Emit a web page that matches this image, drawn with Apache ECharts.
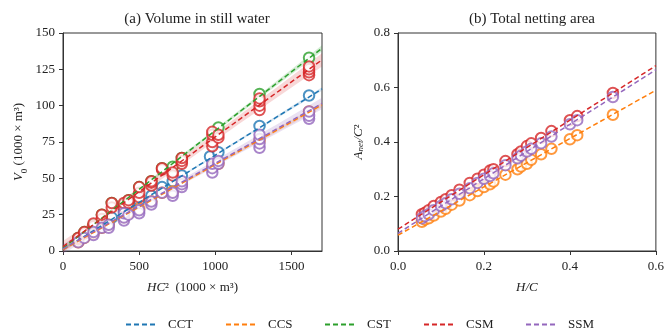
<!DOCTYPE html>
<html><head><meta charset="utf-8">
<script src="https://cdn.jsdelivr.net/npm/echarts@6/dist/echarts.min.js"></script>
<style>html,body{margin:0;padding:0;background:#fff}#c{width:667px;height:334px}</style>
</head><body><div id="c"></div>
<script>
const names = ['CCT','CCS','CST','CSM','SSM'];
const colors = ['#1f77b4','#ff7f0e','#2ca02c','#d62728','#9467bd'];
const bandColors = ['rgba(31,119,180,0.18)','rgba(255,127,14,0.18)','rgba(44,160,44,0.2)','rgba(214,39,40,0.18)','rgba(148,103,189,0.2)'];

// (a) Volume in still water: HC^2 vs V0
const CCT_x = [100,140,200,260,320,400,430,500,580,650,720,780,965,1020,1290,1615];
const CCT_y = [7,10,14,18,23,27,29,35,38,44,48,52,65,68,86,107];
const CCS_x = [100,140,200,255,300,400,430,500,580,650,720,780,980,1020,1290,1615];
const CCS_y = [6,9,12,16,18,23,26,29,34,40,41,46,58,60,76,96];
const CST_x = [100,140,200,255,320,400,430,500,580,650,720,780,1020,1290,1615];
const CST_y = [9,13,18,25,33,32,35,44,48,57,58,64,85,108,133];
const CSM_x = [100,100,140,140,200,200,255,255,320,320,400,400,430,430,500,500,500,580,580,580,650,650,720,720,780,780,780,980,980,980,980,1020,1020,1290,1290,1290,1290,1615,1615,1615,1615];
const CSM_y = [8,9,12,13,17,19,22,25,30,33,30,33,33,35,37,40,44,45,47,48,56,57,52,54,60,62,64,72,75,80,82,78,80,97,100,103,105,121,123,125,127];
const SSM_x = [100,140,200,200,255,300,300,400,400,400,430,500,500,580,580,650,720,720,780,780,780,980,980,980,1020,1020,1290,1290,1290,1290,1615,1615,1615];
const SSM_y = [6,9,11,13,16,16,18,21,23,26,25,26,28,32,34,40,38,40,44,46,48,54,57,60,60,62,71,74,77,80,91,93,96];

// fitted lines (value at HC^2 = 0 and at 1700) and band half-widths (centre, ends)
const fitA_start = [1.0, 1.0, 2.0, 3.0, 1.5];
const fitA_end   = [111.5, 100.5, 139.5, 131.5, 101.5];
const bandA_mid  = [0.6, 0.8, 1.0, 2.5, 2.0];
const bandA_end  = [1.2, 1.6, 2.0, 4.5, 4.0];

// (b) Total netting area: H/C vs A_net/C^2
const HC_ratio = [0.0556,0.0625,0.0714,0.0833,0.1,0.111,0.125,0.143,0.167,0.185,0.2,0.214,0.222,0.25,0.278,0.286,0.3,0.31,0.333,0.357,0.4,0.417,0.5];
const B_CCS = [0.107,0.115,0.12,0.13,0.145,0.155,0.17,0.185,0.205,0.22,0.235,0.245,0.255,0.28,0.30,0.31,0.32,0.335,0.355,0.375,0.41,0.425,0.50];
const B_CSM = [0.135,0.14,0.15,0.165,0.18,0.19,0.205,0.225,0.25,0.265,0.28,0.295,0.30,0.33,0.355,0.365,0.385,0.395,0.415,0.44,0.48,0.495,0.58];
const B_SSM = [0.12,0.128,0.135,0.15,0.165,0.175,0.19,0.21,0.23,0.25,0.265,0.275,0.285,0.315,0.34,0.35,0.365,0.375,0.395,0.42,0.465,0.48,0.565];
const fitB_names = ['CCS','CSM','SSM'];
const fitB_start = [0.058, 0.08, 0.065];
const fitB_end   = [0.59, 0.68, 0.665];

const leftX = [CCT_x, CCS_x, CST_x, CSM_x, SSM_x];
const leftY = [CCT_y, CCS_y, CST_y, CSM_y, SSM_y];
const rightY = {CCS: B_CCS, CSM: B_CSM, SSM: B_SSM};

const FONT = 'Liberation Serif';
const XMAX_A = 1700, XMAX_B = 0.6;

function zip(xs, ys){ return xs.map((x,i)=>[x, ys[i]]); }

function axisCommon(){
  return {
    axisLine:{show:true, lineStyle:{color:'#333', width:1}},
    axisTick:{show:true, inside:false, length:4, lineStyle:{color:'#333'}},
    splitLine:{show:false}
  };
}

const series = [];
names.forEach((n,i)=>{
  const a = fitA_start[i], b = fitA_end[i];
  const xm = 750;
  const pts = [];
  for (let k=0;k<=34;k++){ pts.push(XMAX_A*k/34); }
  const half = x => { const t=(x-xm)/(XMAX_A-xm); return Math.sqrt(bandA_mid[i]**2 + (bandA_end[i]**2-bandA_mid[i]**2)*t*t); };
  const lineY = x => a + (b-a)*x/XMAX_A;
  series.push({
    type:'custom', xAxisIndex:0, yAxisIndex:0, silent:true, z:1,
    data:[[0,0]],
    renderItem:(params, api)=>{
      const up = pts.map(x=>api.coord([x, lineY(x)+half(x)]));
      const lo = pts.slice().reverse().map(x=>api.coord([x, lineY(x)-half(x)]));
      return {type:'polygon', shape:{points: up.concat(lo)}, style:{fill:bandColors[i]}};
    }
  });
});
names.forEach((n,i)=>{
  series.push({type:'scatter', name:n+'_pts', xAxisIndex:0, yAxisIndex:0, z:2,
    data: zip(leftX[i], leftY[i]), symbol:'emptyCircle', symbolSize:10.5,
    itemStyle:{color:colors[i], borderColor:colors[i], borderWidth:1.6}, silent:true});
});
names.forEach((n,i)=>{
  series.push({type:'line', name:n, xAxisIndex:0, yAxisIndex:0, z:3,
    data:[[0,fitA_start[i]],[XMAX_A,fitA_end[i]]], symbol:'none', showSymbol:false,
    lineStyle:{color:colors[i], width:1.5, type:[5,3]}, itemStyle:{color:colors[i]}, silent:true});
});
fitB_names.forEach((n,j)=>{
  const i = names.indexOf(n);
  series.push({type:'scatter', name:n+'_b', xAxisIndex:1, yAxisIndex:1, z:2,
    data: zip(HC_ratio, rightY[n]), symbol:'emptyCircle', symbolSize:10.5,
    itemStyle:{color:colors[i], borderColor:colors[i], borderWidth:1.6}, silent:true});
});
fitB_names.forEach((n,j)=>{
  const i = names.indexOf(n);
  series.push({type:'line', name:n+'_bl', xAxisIndex:1, yAxisIndex:1, z:3,
    data:[[0,fitB_start[j]],[XMAX_B,fitB_end[j]]], symbol:'none',
    lineStyle:{color:colors[i], width:1.5, type:[5,3]}, silent:true});
});

const legendLeft = [120, 220, 319, 418, 520];
const xLabelStyle = {color:'#222', fontFamily:FONT, fontSize:13, margin:9};
const yLabelStyle = {color:'#222', fontFamily:FONT, fontSize:13, margin:8};

const chart = echarts.init(document.getElementById('c'), null, {renderer:'canvas'});
chart.setOption({
  animation:false,
  backgroundColor:'#fff',
  title:[
    {text:'(a) Volume in still water', left:192, top:7, textAlign:'center', textStyle:{fontFamily:FONT, fontSize:15, fontWeight:'normal', color:'#222'}},
    {text:'(b) Total netting area', left:527, top:7, textAlign:'center', textStyle:{fontFamily:FONT, fontSize:15, fontWeight:'normal', color:'#222'}}
  ],
  legend: names.map((n,i)=>({
    data:[n], left:legendLeft[i], top:313, itemWidth:30, itemHeight:12, itemGap:0,
    itemStyle:{opacity:0},
    textStyle:{fontFamily:FONT, fontSize:13, color:'#222', padding:[0,0,0,7]}, selectedMode:false
  })),
  grid:[
    {left:63, top:33, width:259, height:218, show:true, borderColor:'#333', borderWidth:1, backgroundColor:'transparent'},
    {left:398, top:33, width:259, height:218, show:true, borderColor:'#333', borderWidth:1, backgroundColor:'transparent'}
  ],
  xAxis:[
    Object.assign(axisCommon(), {type:'value', gridIndex:0, min:0, max:XMAX_A, interval:500,
      axisLabel:Object.assign({}, xLabelStyle, {showMaxLabel:false, formatter:v=>String(v)}),
      name:'{i|HC}{n|²  (1000 × m³)}', nameLocation:'middle', nameGap:30,
      nameTextStyle:{rich:{i:{fontFamily:FONT, fontSize:13, fontStyle:'italic', color:'#222'}, n:{fontFamily:FONT, fontSize:13, color:'#222'}}}}),
    Object.assign(axisCommon(), {type:'value', gridIndex:1, min:0, max:XMAX_B, interval:0.2,
      axisLabel:Object.assign({}, xLabelStyle, {formatter:v=>v.toFixed(1)}),
      name:'H/C', nameLocation:'middle', nameGap:30,
      nameTextStyle:{fontFamily:FONT, fontSize:13, fontStyle:'italic', color:'#222'}})
  ],
  yAxis:[
    Object.assign(axisCommon(), {type:'value', gridIndex:0, min:0, max:150, interval:25,
      axisLabel:Object.assign({}, yLabelStyle, {formatter:v=>String(v)}),
      name:'{i|V}{s|0}{n| (1000 × m³)}', nameLocation:'middle', nameGap:38, nameRotate:90,
      nameTextStyle:{rich:{i:{fontFamily:FONT, fontSize:13, fontStyle:'italic', color:'#222'}, s:{fontFamily:FONT, fontSize:9, color:'#222', verticalAlign:'bottom', padding:[0,0,-4,0]}, n:{fontFamily:FONT, fontSize:13, color:'#222'}}}}),
    Object.assign(axisCommon(), {type:'value', gridIndex:1, min:0, max:0.8, interval:0.2,
      axisLabel:Object.assign({}, yLabelStyle, {formatter:v=>v.toFixed(1)}),
      name:'{i|A}{s|net}{i|/C}{n|²}', nameLocation:'middle', nameGap:33, nameRotate:90,
      nameTextStyle:{rich:{i:{fontFamily:FONT, fontSize:13, fontStyle:'italic', color:'#222'}, s:{fontFamily:FONT, fontSize:9, fontStyle:'italic', color:'#222', padding:[0,0,-4,0]}, n:{fontFamily:FONT, fontSize:13, color:'#222'}}}})
  ],
  series: series
});
</script></body></html>
